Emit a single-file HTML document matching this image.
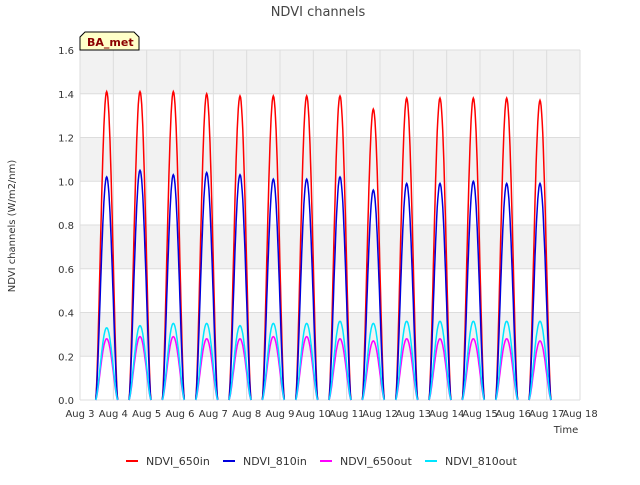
<!DOCTYPE html>
<html><head><meta charset="utf-8"><style>
body{margin:0;background:#fff;font-family:"Liberation Sans","DejaVu Sans",sans-serif;}
svg text{font-family:"DejaVu Sans","Liberation Sans",sans-serif;}
</style></head><body>
<svg id="chart" width="640" height="480">
<text x="318" y="16" font-size="13" fill="#444" text-anchor="middle">NDVI channels</text>
<g id="bands"></g>
<g id="grid"></g>
<g id="series"></g>
<g id="axes"></g>
<g>
<path d="M80,50 L80,37 L85,32 L134,32 L139,37 L139,50 Z" fill="#ffffc8" stroke="#000" stroke-width="1"/>
<text x="87" y="46" font-size="11" font-weight="bold" fill="#8b0000">BA_met</text>
</g>
<text x="15" y="226" font-size="10" fill="#333" text-anchor="middle" transform="rotate(-90 15 226)">NDVI channels (W/m2/nm)</text>
<text x="566" y="433" font-size="10" fill="#333" text-anchor="middle">Time</text>
<g id="legend"></g>
</svg>
<script>
const days = ["Aug 3","Aug 4","Aug 5","Aug 6","Aug 7","Aug 8","Aug 9","Aug 10","Aug 11","Aug 12","Aug 13","Aug 14","Aug 15","Aug 16","Aug 17","Aug 18"];
const yTicks = [0,0.2,0.4,0.6,0.8,1.0,1.2,1.4,1.6];
const seriesNames = ["NDVI_650in","NDVI_810in","NDVI_650out","NDVI_810out"];
const peaks650in = [1.41,1.41,1.41,1.40,1.39,1.39,1.39,1.39,1.33,1.38,1.38,1.38,1.38,1.37];
const peaks810in = [1.02,1.05,1.03,1.04,1.03,1.01,1.01,1.02,0.96,0.99,0.99,1.00,0.99,0.99];
const peaks650out = [0.28,0.29,0.29,0.28,0.28,0.29,0.29,0.28,0.27,0.28,0.28,0.28,0.28,0.27];
const peaks810out = [0.33,0.34,0.35,0.35,0.34,0.35,0.35,0.36,0.35,0.36,0.36,0.36,0.36,0.36];
const colors = ["#ff0000","#0000dd","#ff00ff","#00e5ff"];

const X0=80,X1=580,Y0=400,Y1=50;
const xs=d=>X0+(d/15)*(X1-X0);
const ys=v=>Y0-(v/1.6)*(Y0-Y1);
const NS="http://www.w3.org/2000/svg";
function mk(tag,attrs,parent){const e=document.createElementNS(NS,tag);for(const k in attrs)e.setAttribute(k,attrs[k]);parent.appendChild(e);return e;}
const bands=document.getElementById('bands'),grid=document.getElementById('grid'),axes=document.getElementById('axes'),ser=document.getElementById('series'),leg=document.getElementById('legend');
mk('rect',{x:X0,y:Y1,width:X1-X0,height:Y0-Y1,fill:'#ffffff'},bands);
for(let i=0;i<yTicks.length-1;i++){
  if(i%2===1){const r=mk('rect',{x:X0,y:ys(yTicks[i+1]),width:X1-X0,height:ys(yTicks[i])-ys(yTicks[i+1]),fill:'#f2f2f2'},bands);
  
  }
}
yTicks.forEach(v=>{
  mk('line',{x1:X0,x2:X1,y1:ys(v),y2:ys(v),stroke:'#dddddd','stroke-width':1},grid);
  const t=mk('text',{x:X0-6,y:ys(v)+4,'font-size':10,fill:'#333','text-anchor':'end'},axes);
  t.textContent=v.toFixed(1);
  
  
});
days.forEach((d,i)=>{
  mk('line',{x1:xs(i),x2:xs(i),y1:Y1,y2:Y0,stroke:'#dddddd','stroke-width':1},grid);
  const t=mk('text',{x:xs(i),y:Y0+17,'font-size':10,fill:'#333','text-anchor':'middle'},axes);
  t.textContent=d;
  
  
});
const all=[peaks650in,peaks810in,peaks650out,peaks810out];
all.forEach((pk,si)=>{
  let d='';
  pk.forEach((p,i)=>{
    const s=i+0.47,e=i+1.13;
    d+='M'+xs(s).toFixed(1)+','+ys(0).toFixed(1);
    for(let k=1;k<=40;k++){const t=s+(e-s)*k/40;const v=p*Math.pow(Math.sin(Math.PI*k/40),1.5);d+='L'+xs(t).toFixed(1)+','+ys(v).toFixed(1);}
  });
  const path=mk('path',{d:d,fill:'none',stroke:colors[si],'stroke-width':1.5},ser);
  
  
});
const lx=[126,223,320,425];
seriesNames.forEach((n,i)=>{
  const g=mk('g',{},leg);
  
  
  mk('line',{x1:lx[i],x2:lx[i]+12,y1:461,y2:461,stroke:colors[i],'stroke-width':2},g);
  const t=mk('text',{x:lx[i]+20,y:465,'font-size':11,fill:'#333'},g);
  t.textContent=n;
});
</script>
</body></html>
